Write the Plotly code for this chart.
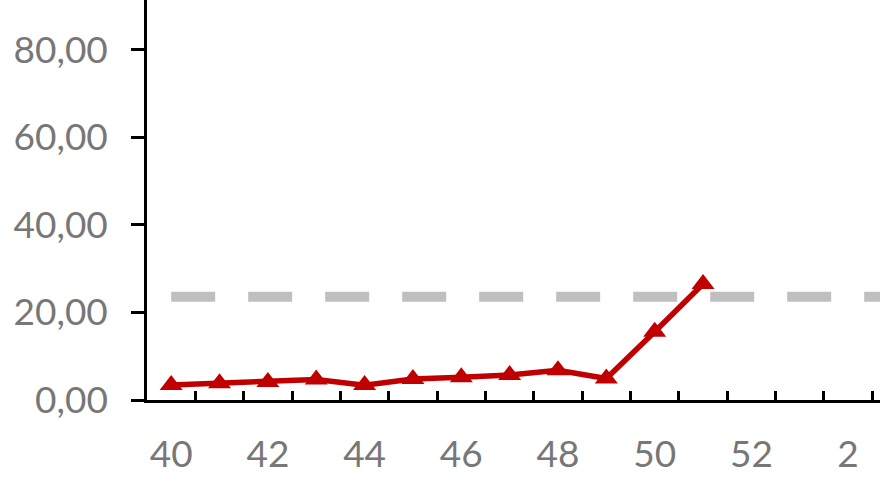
import plotly.graph_objects as go

weeks = ["40", "41", "42", "43", "44", "45", "46", "47", "48", "49", "50", "51", "52", "1", "2", "3"]
red_weeks = ["40", "41", "42", "43", "44", "45", "46", "47", "48", "49", "50", "51"]
red_values = [3.4, 3.8, 4.1, 4.7, 3.4, 4.8, 5.2, 5.7, 6.8, 4.9, 15.6, 26.5]
threshold_values = [23.6, 23.6, 23.6, 23.6, 23.6, 23.6, 23.6, 23.6,
                    23.6, 23.6, 23.6, 23.6, 23.6, 23.6, 23.6, 23.6]
y_ticks = [0, 20, 40, 60, 80]
x_tick_text = [w if i % 2 == 0 else "" for i, w in enumerate(weeks)]

fig = go.Figure()
fig.add_trace(go.Scatter(
    x=weeks, y=threshold_values, mode="lines",
    line=dict(color="#BFBFBF", width=10, dash="44px,33px"),
    hoverinfo="skip", showlegend=False,
))
fig.add_trace(go.Scatter(
    x=red_weeks, y=red_values, mode="lines+markers",
    line=dict(color="#C00000", width=5.5),
    marker=dict(symbol="triangle-up", size=20, color="#C00000"),
    showlegend=False,
))

font_family = "Lato, 'Open Sans', sans-serif"
fig.update_layout(
    width=880, height=495,
    margin=dict(l=147, r=0, t=0, b=95),
    paper_bgcolor="white", plot_bgcolor="white",
    separators=",.",
    showlegend=False,
    xaxis=dict(
        type="category", categoryorder="array", categoryarray=weeks,
        range=[-0.5, 14.66],
        tickmode="array", tickvals=weeks, ticktext=x_tick_text,
        tickangle=0, automargin=False,
        ticks="inside", tickson="boundaries", ticklen=9, tickwidth=2.5, tickcolor="black",
        showline=True, linecolor="black", linewidth=2.5,
        showgrid=False, zeroline=False,
        tickfont=dict(family=font_family, size=37, color="#777777"),
        ticklabelstandoff=20,
    ),
    yaxis=dict(
        range=[0, 91.4], automargin=False,
        tickmode="array", tickvals=y_ticks, tickformat=".2f",
        ticks="outside", ticklen=13, tickwidth=2.5, tickcolor="black",
        showline=True, linecolor="black", linewidth=2.5,
        showgrid=False, zeroline=False,
        tickfont=dict(family=font_family, size=37, color="#777777"),
        ticklabelstandoff=16,
    ),
)

fig.write_html("out.html", config={"displayModeBar": False},
               post_script="document.body.style.margin='0';")
